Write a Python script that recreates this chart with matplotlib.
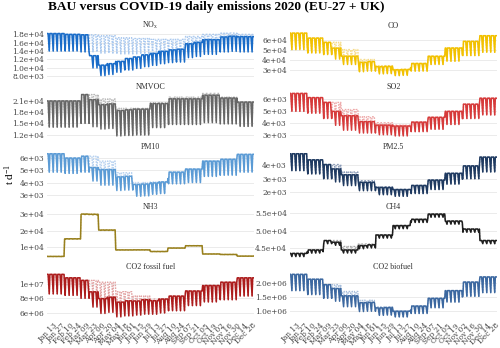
import numpy as np
import pandas as pd
import matplotlib
matplotlib.use('Agg')
import matplotlib.pyplot as plt
import matplotlib.dates as mdates

plt.rcParams['font.family'] = 'DejaVu Serif'
plt.rcParams['mathtext.fontset'] = 'custom'
plt.rcParams['mathtext.rm'] = 'Liberation Serif'
plt.rcParams['mathtext.it'] = 'Liberation Serif:italic'

# panel order: row by row, left then right
titles = ['NO$_\\mathrm{x}$', 'CO', 'NMVOC', 'SO2', 'PM10', 'PM2.5',
          'NH3', 'CH4', 'CO2 fossil fuel', 'CO2 biofuel']

# BAU monthly levels (t/d): working days (hi) and weekend (lo)
nox_hi = [1.82e4, 1.80e4, 1.79e4, 1.77e4, 1.72e4, 1.70e4, 1.68e4, 1.68e4, 1.75e4, 1.80e4, 1.83e4, 1.80e4]
nox_lo = [1.40e4, 1.40e4, 1.38e4, 1.35e4, 1.33e4, 1.33e4, 1.32e4, 1.32e4, 1.38e4, 1.42e4, 1.45e4, 1.42e4]
co_hi = [6.73e4, 6.23e4, 5.80e4, 5.07e4, 4.07e4, 3.45e4, 3.07e4, 3.67e4, 4.40e4, 5.23e4, 5.90e4, 6.47e4]
co_lo = [5.07e4, 4.73e4, 4.57e4, 4.10e4, 3.05e4, 2.70e4, 2.47e4, 2.90e4, 3.57e4, 3.90e4, 4.47e4, 4.80e4]
nmvoc_hi = [2.10e4, 2.10e4, 2.27e4, 2.15e4, 1.90e4, 1.90e4, 2.05e4, 2.20e4, 2.20e4, 2.30e4, 2.20e4, 2.07e4]
nmvoc_lo = [1.40e4, 1.40e4, 1.50e4, 1.45e4, 1.20e4, 1.20e4, 1.40e4, 1.50e4, 1.50e4, 1.55e4, 1.50e4, 1.42e4]
so2_hi = [6.50e3, 6.15e3, 5.75e3, 5.15e3, 4.55e3, 4.05e3, 3.85e3, 4.10e3, 4.50e3, 5.00e3, 5.60e3, 6.10e3]
so2_lo = [5.00e3, 4.85e3, 4.40e3, 3.80e3, 3.50e3, 3.20e3, 3.00e3, 3.30e3, 3.50e3, 3.90e3, 4.40e3, 4.70e3]
pm10_hi = [6.35e3, 6.00e3, 6.15e3, 5.75e3, 4.80e3, 4.00e3, 4.05e3, 4.85e3, 5.10e3, 5.75e3, 5.90e3, 6.30e3]
pm10_lo = [4.85e3, 4.75e3, 4.85e3, 4.30e3, 3.60e3, 3.00e3, 3.10e3, 3.90e3, 4.00e3, 4.50e3, 4.60e3, 4.85e3]
pm25_hi = [4.85e3, 4.40e3, 4.05e3, 3.50e3, 2.85e3, 2.40e3, 2.20e3, 2.50e3, 2.90e3, 3.40e3, 3.95e3, 4.60e3]
pm25_lo = [3.60e3, 3.35e3, 3.00e3, 2.65e3, 2.20e3, 1.85e3, 1.70e3, 1.90e3, 2.20e3, 2.60e3, 3.00e3, 3.50e3]
nh3_hi = [0.43e4, 1.50e4, 3.00e4, 2.05e4, 0.83e4, 0.83e4, 0.73e4, 0.94e4, 1.08e4, 0.58e4, 0.55e4, 0.45e4]
nh3_lo = [0.42e4, 1.48e4, 2.97e4, 2.03e4, 0.82e4, 0.82e4, 0.72e4, 0.93e4, 1.07e4, 0.57e4, 0.54e4, 0.44e4]
ch4_hi = [4.35e4, 4.45e4, 4.72e4, 4.55e4, 4.62e4, 4.88e4, 5.15e4, 5.33e4, 5.48e4, 5.28e4, 5.05e4, 4.72e4]
ch4_lo = [4.26e4, 4.36e4, 4.63e4, 4.46e4, 4.53e4, 4.79e4, 5.06e4, 5.24e4, 5.39e4, 5.19e4, 4.96e4, 4.63e4]
co2f_hi = [1.127e7, 1.08e7, 1.045e7, 1.02e7, 8.9e6, 8.3e6, 7.9e6, 8.3e6, 9.0e6, 9.75e6, 1.02e7, 1.08e7]
co2f_lo = [8.6e6, 8.4e6, 8.0e6, 7.6e6, 6.5e6, 6.2e6, 6.0e6, 6.3e6, 7.0e6, 7.5e6, 7.8e6, 8.3e6]
co2b_hi = [2.29e6, 2.12e6, 1.93e6, 1.69e6, 1.38e6, 1.15e6, 1.00e6, 1.18e6, 1.45e6, 1.72e6, 2.02e6, 2.20e6]
co2b_lo = [1.72e6, 1.58e6, 1.45e6, 1.27e6, 1.05e6, 0.88e6, 0.80e6, 0.92e6, 1.12e6, 1.32e6, 1.52e6, 1.65e6]

# COVID-19 / BAU ratio per half month (1st-15th, 16th-end)
nox_f = [1, 1, 1, 1, 1, 0.72, 0.60, 0.62, 0.67, 0.71, 0.74, 0.77, 0.80, 0.83, 0.85, 0.86, 0.90, 0.92, 0.93, 0.93, 0.95, 0.96, 0.97, 0.97]
co_f = [1, 1, 1, 1, 1, 0.90, 0.87, 0.87, 0.93, 0.95, 0.97, 0.98, 0.99, 1, 1, 1, 1, 1, 1, 1, 1, 1, 1, 1]
nmvoc_f = [1, 1, 1, 1, 1, 0.94, 0.93, 0.94, 0.97, 0.98, 0.99, 0.99, 0.99, 0.99, 0.98, 0.98, 0.98, 0.98, 0.98, 0.98, 0.99, 0.99, 1, 1]
so2_f = [1, 1, 1, 1, 1, 0.87, 0.90, 0.90, 0.91, 0.91, 0.95, 0.95, 0.98, 0.98, 1, 1, 1, 1, 1, 1, 1, 1, 1, 1]
pm10_f = [1, 1, 1, 1, 1, 0.85, 0.88, 0.88, 0.93, 0.94, 0.96, 0.97, 0.98, 1, 1, 1, 1, 1, 1, 1, 1, 1, 1, 1]
pm25_f = [1, 1, 1, 1, 1, 0.92, 0.94, 0.94, 0.96, 0.96, 0.98, 0.98, 1, 1, 1, 1, 1, 1, 1, 1, 1, 1, 1, 1]
nh3_f = [1, 1, 1, 1, 1, 0.995, 0.99, 0.99, 0.995, 0.995, 1, 1, 1, 1, 1, 1, 1, 1, 1, 1, 1, 1, 1, 1]
ch4_f = [1, 1, 1, 1, 1, 0.99, 0.978, 0.978, 0.99, 0.995, 1, 1, 1, 1, 1, 1, 1, 1, 1, 1, 1, 1, 1, 1]
co2f_f = [1, 1, 1, 1, 1, 0.85, 0.78, 0.80, 0.84, 0.86, 0.92, 0.94, 0.97, 1, 1, 1, 1, 1, 1, 1, 1, 1, 1, 1]
co2b_f = [1, 1, 1, 1, 1, 0.93, 0.91, 0.91, 0.94, 0.95, 0.97, 0.98, 1, 1, 1, 1, 1, 1, 1, 1, 1, 1, 1, 1]

# share of the working-day level, Monday..Sunday
weekday_weight = [1, 1, 1, 1, 1, 0.45, 0]

covid_colors = ['#1a6cc8', '#f2c100', '#666666', '#d63a3a', '#5b9bd5',
                '#1f3a60', '#98801e', '#1e1e1e', '#ac1c1c', '#3c68a0']
bau_colors = ['#a9c8ee', '#f6dc8a', '#b8b8b8', '#eeaaaa', '#b8d2f0',
              '#8c9cb8', '#d8c890', '#a8a8a8', '#e2a4a4', '#a8bedb']

yticks = [[8e3, 1e4, 1.2e4, 1.4e4, 1.6e4, 1.8e4], [3e4, 4e4, 5e4, 6e4],
          [1.2e4, 1.5e4, 1.8e4, 2.1e4], [3e3, 4e3, 5e3, 6e3],
          [3e3, 4e3, 5e3, 6e3], [2e3, 3e3, 4e3],
          [1e4, 2e4, 3e4], [4.5e4, 5.0e4, 5.5e4],
          [6e6, 8e6, 1e7], [1.0e6, 1.5e6, 2.0e6]]
ylabels = [['8.0e+03', '1.0e+04', '1.2e+04', '1.4e+04', '1.6e+04', '1.8e+04'],
           ['3e+04', '4e+04', '5e+04', '6e+04'],
           ['1.2e+04', '1.5e+04', '1.8e+04', '2.1e+04'],
           ['3e+03', '4e+03', '5e+03', '6e+03'],
           ['3e+03', '4e+03', '5e+03', '6e+03'],
           ['2e+03', '3e+03', '4e+03'],
           ['1e+04', '2e+04', '3e+04'],
           ['4.5e+04', '5.0e+04', '5.5e+04'],
           ['6e+06', '8e+06', '1e+07'],
           ['1.0e+06', '1.5e+06', '2.0e+06']]


def daily(hi, lo, factor, dates):
    m = dates.month.values - 1
    half = 2 * m + (dates.day.values > 15)
    w = np.array(weekday_weight)[dates.dayofweek.values]
    hi = np.array(hi)[m]
    lo = np.array(lo)[m]
    bau = lo + w * (hi - lo)
    covid = bau * np.array(factor)[half]
    return bau, covid


def main():
    dates = pd.date_range('2020-01-01', '2020-12-31', freq='D')
    series = [(nox_hi, nox_lo, nox_f), (co_hi, co_lo, co_f),
              (nmvoc_hi, nmvoc_lo, nmvoc_f), (so2_hi, so2_lo, so2_f),
              (pm10_hi, pm10_lo, pm10_f), (pm25_hi, pm25_lo, pm25_f),
              (nh3_hi, nh3_lo, nh3_f), (ch4_hi, ch4_lo, ch4_f),
              (co2f_hi, co2f_lo, co2f_f), (co2b_hi, co2b_lo, co2b_f)]

    fig, axes = plt.subplots(5, 2, figsize=(5.0, 3.48), dpi=100, sharex=True)
    fig.subplots_adjust(left=0.094, right=0.994, top=1 - 31 / 348,
                        bottom=1 - 319 / 348, hspace=0.29, wspace=0.17)
    ticks = pd.date_range('2020-01-13', '2020-12-28', freq='14D')

    for i, ax in enumerate(axes.flat):
        hi, lo, f = series[i]
        bau, covid = daily(hi, lo, f, dates)
        ax.plot(dates, bau, color=bau_colors[i], lw=1.0, ls=(0, (1.2, 0.8)))
        ax.plot(dates, covid, color=covid_colors[i], lw=1.1)
        ax.set_title(titles[i], fontsize=5.8, pad=2, color='#333333',
                     family='Liberation Serif')
        ax.set_yticks(yticks[i])
        ax.set_yticklabels(ylabels[i])
        ax.margins(x=0, y=0.05)
        ax.grid(axis='y', color='#ebebeb', lw=0.7)
        ax.set_axisbelow(True)
        for s in ax.spines.values():
            s.set_visible(False)
        ax.tick_params(length=0, labelsize=5.3, labelcolor='#444444', pad=2)
        ax.set_xticks(ticks)
        ax.xaxis.set_major_formatter(mdates.DateFormatter('%b %d'))
        for lab in ax.get_xticklabels():
            lab.set_rotation(45)
            lab.set_ha('right')
            lab.set_rotation_mode('anchor')

    fig.suptitle('BAU versus COVID-19 daily emissions 2020 (EU-27 + UK)',
                 x=0.096, y=0.997, ha='left', fontsize=9.6, fontweight='bold',
                 family='Liberation Serif')
    fig.text(0.02, 0.5, 't d$^{-1}$', rotation=90, va='center', ha='center',
             fontsize=8, family='Liberation Serif')
    plt.savefig('out.png', dpi=100)


main()
